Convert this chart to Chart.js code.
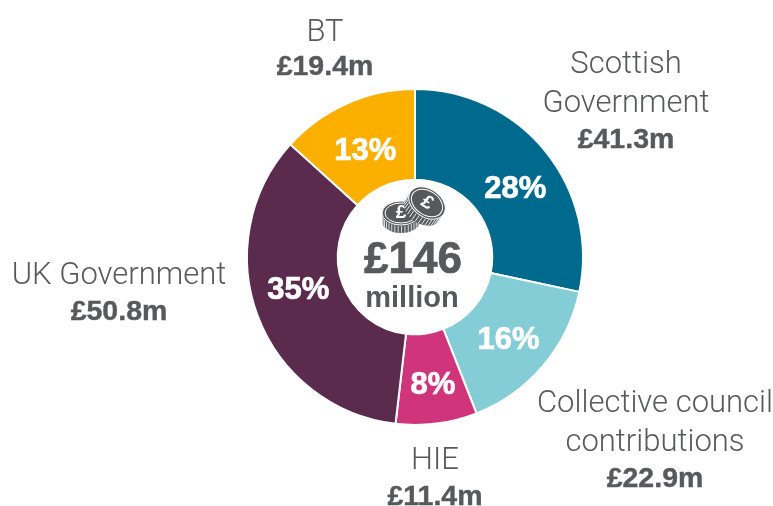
<!DOCTYPE html>
<html lang="en">
<head>
<meta charset="UTF-8">
<title>Funding</title>
<style>
  html, body { margin: 0; padding: 0; background: #fff; }
  #wrap { width: 773px; height: 506px; }
</style>
</head>
<body>
<div id="wrap"><canvas id="myChart" width="773" height="506"></canvas></div>
<script src="https://cdn.jsdelivr.net/npm/chart.js@4"></script>
<script>
const categories = ['Scottish Government', 'Collective council contributions', 'HIE', 'UK Government', 'BT']
const amounts = [41.3, 22.9, 11.4, 50.8, 19.4]
const amountLabels = ['£41.3m', '£22.9m', '£11.4m', '£50.8m', '£19.4m']
const percentLabels = ['28%', '16%', '8%', '35%', '13%']
const sliceColors = ['#006a8e', '#84cdd6', '#d0357c', '#5a2b4d', '#fbb000']
const totalLabel = '£146'
const totalUnit = 'million'

// name lines + amount, placed by hand around the ring
const outerLabels = [
  { lines: ['Scottish', 'Government'], x: 626, y: 65, amountY: 140 },
  { lines: ['Collective council', 'contributions'], x: 655, y: 404, amountY: 479 },
  { lines: ['HIE'], x: 435, y: 461, amountY: 497 },
  { lines: ['UK Government'], x: 119, y: 276, amountY: 312 },
  { lines: ['BT'], x: 325, y: 33, amountY: 67 }
]
// nudges from the slice middle, the reference doesn't sit them exactly centred
const percentNudge = [[5, 10], [0, 4], [2, 7], [-2, -10], [0, 7]]

const grey = '#58595b'
const lightFont = '300 31px Roboto, "Liberation Sans", sans-serif'
const boldFont = 'bold 28.5px "Liberation Sans", sans-serif'

function coin(c, x, y, rx, ry, rot, thick) {
  c.save()
  c.translate(x, y)
  c.rotate(rot)
  // milled edge
  c.fillStyle = grey
  c.beginPath()
  c.ellipse(0, thick, rx, ry, 0, 0, Math.PI * 2)
  c.fill()
  c.fillRect(-rx, 0, rx * 2, thick)
  c.strokeStyle = '#fff'
  c.lineWidth = 0.8
  for (let a = 0.1; a < Math.PI; a += 0.18) {
    const ex = Math.cos(a) * rx, ey = Math.sin(a) * ry
    c.beginPath(); c.moveTo(ex, ey + 1); c.lineTo(ex, ey + thick); c.stroke()
  }
  // face
  c.fillStyle = grey
  c.strokeStyle = '#fff'
  c.lineWidth = 1
  c.beginPath()
  c.ellipse(0, 0, rx, ry, 0, 0, Math.PI * 2)
  c.fill()
  c.stroke()
  c.beginPath()
  c.ellipse(0, 0, rx - 3, ry - 2, 0, 0, Math.PI * 2)
  c.stroke()
  // pound sign
  c.fillStyle = '#fff'
  c.font = 'bold 19px "Liberation Sans", sans-serif'
  c.fillText('£', 0, 0)
  c.restore()
}

const labelPlugin = {
  id: 'labelPlugin',
  afterDraw(chart) {
    const c = chart.ctx
    const arcs = chart.getDatasetMeta(0).data
    c.save()
    c.textAlign = 'center'
    c.textBaseline = 'middle'

    // percentages
    c.fillStyle = '#fff'
    c.strokeStyle = '#fff'
    c.lineWidth = 0.7
    c.font = 'bold 31px "Liberation Sans", sans-serif'
    arcs.forEach((arc, i) => {
      const p = arc.tooltipPosition()
      c.fillText(percentLabels[i], p.x + percentNudge[i][0], p.y + percentNudge[i][1])
      c.strokeText(percentLabels[i], p.x + percentNudge[i][0], p.y + percentNudge[i][1])
    })

    // outside labels
    outerLabels.forEach((l, i) => {
      c.fillStyle = grey
      c.strokeStyle = grey
      c.lineWidth = 0.4
      c.font = lightFont
      l.lines.forEach((t, j) => c.fillText(t, l.x, l.y + j * 39.5))
      c.font = boldFont
      c.fillText(amountLabels[i], l.x, l.amountY)
      c.strokeText(amountLabels[i], l.x, l.amountY)
    })

    // centre
    const cx = arcs[0].x, cy = arcs[0].y
    c.fillStyle = grey
    c.strokeStyle = grey
    c.lineWidth = 0.7
    c.font = 'bold 44px "Liberation Sans", sans-serif'
    c.fillText(totalLabel, cx - 2, cy + 4)
    c.strokeText(totalLabel, cx - 2, cy + 4)
    c.font = 'bold 29px "Liberation Sans", sans-serif'
    c.fillText(totalUnit, cx - 3, cy + 42)

    // coins
    coin(c, 401, 213, 19, 12, 0, 8)
    coin(c, 427, 203, 20, 14, 0.6, 8)
    c.restore()
  }
}

new Chart(document.getElementById('myChart'), {
  type: 'doughnut',
  data: {
    labels: categories,
    datasets: [{
      data: amounts,
      backgroundColor: sliceColors,
      borderColor: '#fff',
      borderWidth: 2
    }]
  },
  options: {
    responsive: false,
    animation: false,
    cutout: '46%',
    layout: { padding: { left: 246, right: 189, top: 88, bottom: 80 } },
    plugins: { legend: { display: false }, tooltip: { enabled: false } }
  },
  plugins: [labelPlugin]
})
</script>
</body>
</html>
